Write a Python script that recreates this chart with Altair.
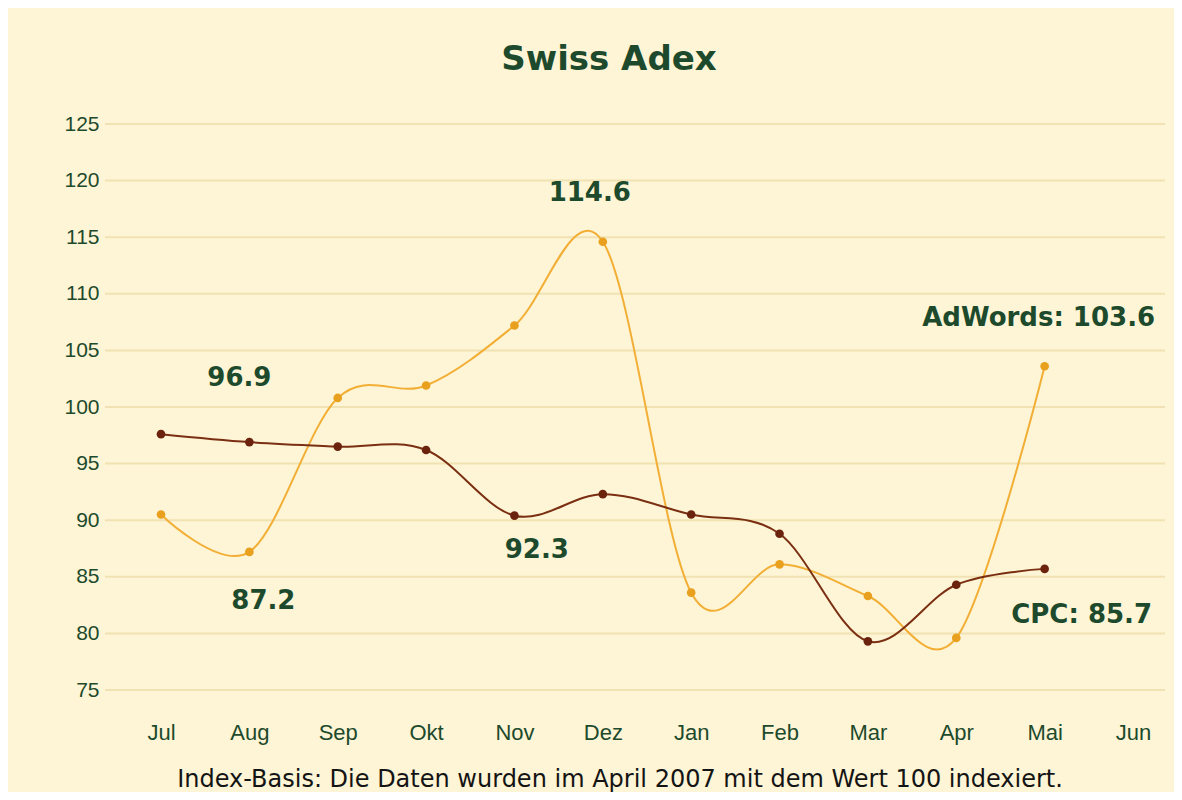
import pandas as pd
import altair as alt

# values
months = ["Jul", "Aug", "Sep", "Okt", "Nov", "Dez", "Jan", "Feb", "Mar", "Apr", "Mai", "Jun"]
adwords = [90.5, 87.2, 100.8, 101.9, 107.2, 114.6, 83.6, 86.1, 83.3, 79.6, 103.6]
cpc = [97.6, 96.9, 96.5, 96.2, 90.4, 92.3, 90.5, 88.8, 79.3, 84.3, 85.7]
y_ticks = [75, 80, 85, 90, 95, 100, 105, 110, 115, 120, 125]

footnote = "Index-Basis: Die Daten wurden im April 2007 mit dem Wert 100 indexiert."

BG = "#FDF5D5"
GREEN = "#1D4A2C"
ORANGE_LINE = "#F2AE35"
ORANGE_PT = "#E8A01E"
BROWN_LINE = "#7A2E12"
BROWN_PT = "#6B230D"

W, H = 1060, 566

df_ad = pd.DataFrame({"month": months[:len(adwords)], "value": adwords})
df_cpc = pd.DataFrame({"month": months[:len(cpc)], "value": cpc})
df_grid = pd.DataFrame({"value": y_ticks})

x_enc = alt.X("month:N", sort=months,
              scale=alt.Scale(domain=months, range=[56, 1028], padding=0),
              axis=alt.Axis(title=None, ticks=False, domain=False, labelAngle=0,
                            labelFont="Liberation Sans", labelFontSize=22,
                            labelColor=GREEN, labelBaseline="middle",
                            labelPadding=42))
y_enc = alt.Y("value:Q",
              scale=alt.Scale(domain=[75, 125], nice=False, zero=False),
              axis=alt.Axis(title=None, values=y_ticks, ticks=False, domain=False,
                            grid=False, labelFont="Liberation Sans", labelFontSize=21,
                            labelColor=GREEN, labelPadding=6))

# horizontal grid across the whole plot area
grid = alt.Chart(df_grid).mark_rule(color="#F1E2B3", strokeWidth=2).encode(
    y=y_enc, x=alt.value(0), x2=alt.value(W)
)

def series(df, line_color, pt_color):
    base = alt.Chart(df).encode(x=x_enc, y=y_enc)
    line = base.mark_line(color=line_color, strokeWidth=2, interpolate="cardinal")
    pts = base.mark_circle(color=pt_color, size=75, opacity=1)
    return line + pts

# annotation text: (text, series, month, dx, dy)
labels = [
    ("96.9", df_cpc, "Aug", -10, -64),
    ("87.2", df_ad, "Aug", 14, 49),
    ("92.3", df_cpc, "Dez", -66, 56),
    ("114.6", df_ad, "Dez", -13, -49),
    ("AdWords: 103.6", df_ad, "Mai", -6, -48),
    ("CPC: 85.7", df_cpc, "Mai", 37, 46),
]

layers = [grid, series(df_ad, ORANGE_LINE, ORANGE_PT), series(df_cpc, BROWN_LINE, BROWN_PT)]
for text, df, m, dx, dy in labels:
    row = df[df["month"] == m].assign(label=text)
    layers.append(
        alt.Chart(row).mark_text(font="DejaVu Sans", fontWeight="bold", fontSize=26,
                                 color=GREEN, dx=dx, dy=dy, align="center",
                                 baseline="middle")
        .encode(x=x_enc, y=y_enc, text="label:N")
    )

note = alt.Chart(pd.DataFrame({"t": [footnote]})).mark_text(
    font="DejaVu Sans", fontSize=24, color="#141414", align="center", baseline="middle"
).encode(x=alt.value(515), y=alt.value(656), text="t:N")
layers.append(note)

chart = alt.layer(*layers).properties(
    width=W, height=H,
    title=alt.TitleParams("Swiss Adex", font="DejaVu Sans", fontSize=34,
                          fontWeight="bold", color=GREEN, anchor="middle",
                          dx=-26, offset=36),
    autosize=alt.AutoSizeParams(type="none"),
    padding={"left": 97, "top": 116, "right": 9, "bottom": 102},
).configure(background=BG).configure_view(strokeWidth=0)

chart.save("out.html", embed_options={"renderer": "svg", "actions": False})
